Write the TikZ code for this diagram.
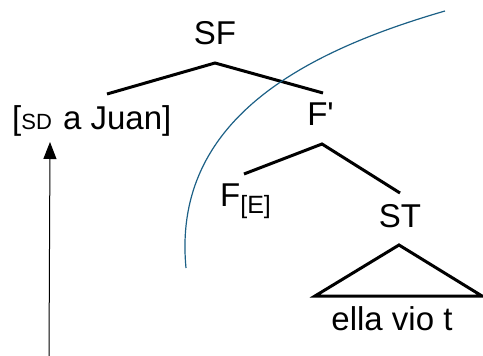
\documentclass[tikz,border=0pt]{standalone}
\usepackage{fontspec}
\setmainfont{Liberation Sans}
\usetikzlibrary{arrows.meta}
\definecolor{arcblue}{RGB}{28,96,134}
\begin{document}
\begin{tikzpicture}[x=1pt,y=-1pt,
  lbl/.style={inner sep=0pt,font=\fontsize{33}{38}\selectfont},
  branch/.style={line width=3pt,line join=miter},
  curve/.style={arcblue,line width=1.2pt},
  movearrow/.style={line width=1pt,-{Triangle[length=17pt,width=13pt]}}]
\useasboundingbox (0,0) rectangle (483,356);
% labels
\node[lbl,anchor=base] (sf) at (215,45) {SF};
\node[lbl,anchor=base west] (sd) at (12,129) {[{\fontsize{22}{26}\selectfont SD}\hspace{2pt} a Juan]};
\node[lbl,anchor=base] (fp) at (320.5,125) {F\textquotesingle};
\node[lbl,anchor=base west] (f) at (220,206) {F\raisebox{-7pt}{\fontsize{25}{29}\selectfont[E]}};
\node[lbl,anchor=base] (st) at (400,227) {ST};
\node[lbl,anchor=base] (ella) at (392,330) {ella vio t};
% tree coordinates
\coordinate (sfapex) at (215,63);
\coordinate (sfl) at (107,94);
\coordinate (sfr) at (323,93);
\coordinate (fpapex) at (322,144);
\coordinate (fpl) at (244,174);
\coordinate (fpr) at (400,193);
\coordinate (tapex) at (399,245);
\coordinate (tl) at (315,296);
\coordinate (tr) at (482,296);
\coordinate (arrbot) at (49,356);
\coordinate (arrtip) at (50,142);
\coordinate (arcstart) at (445,11);
\coordinate (arcend) at (186,268);
% branches
\draw[branch] (sfl) -- (sfapex) -- (sfr);
\draw[branch] (fpl) -- (fpapex) -- (fpr);
\draw[branch] (tl) -- (tapex) -- (tr) -- cycle;
% movement arrow
\draw[movearrow] (arrbot) -- (arrtip);
% blue arc
\draw[curve] (arcstart) .. controls (289,56) and (172.7,128) .. (arcend);
\end{tikzpicture}
\end{document}
